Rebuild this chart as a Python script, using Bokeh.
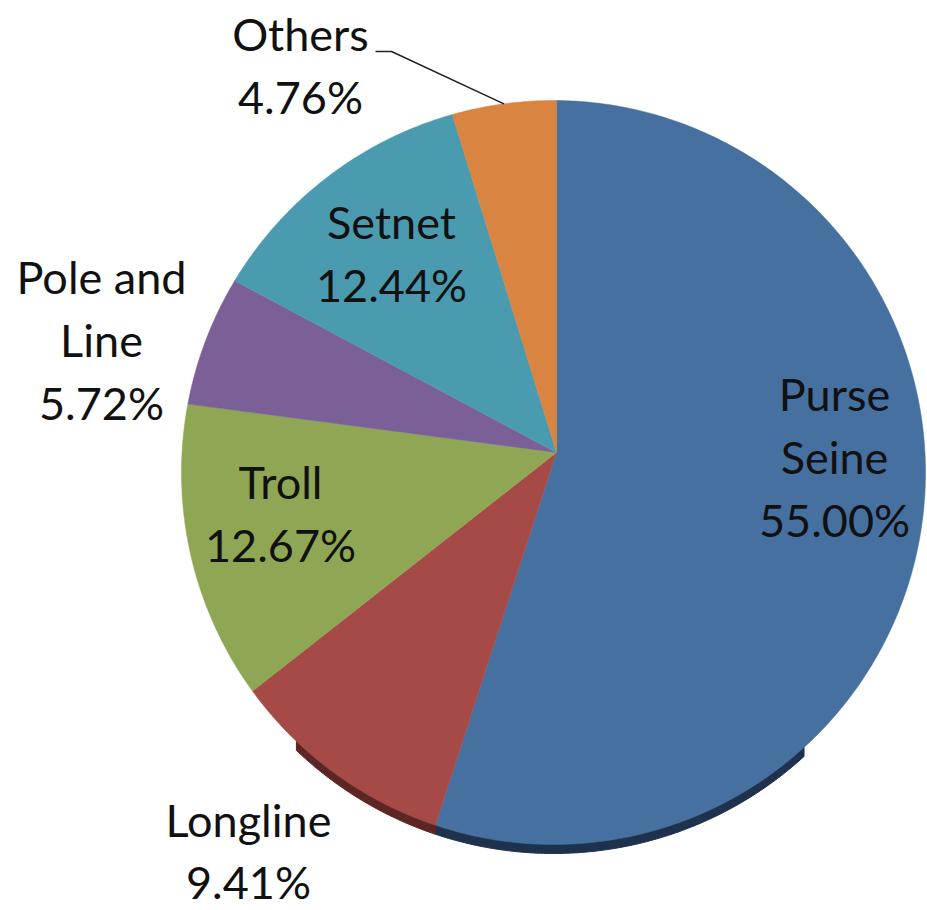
import numpy as np
from bokeh.plotting import figure
from bokeh.models import Range1d
from bokeh.core.properties import value
from bokeh.embed import file_html
from bokeh.resources import INLINE

# ---------------- data ----------------
categories = ["Purse Seine", "Longline", "Troll", "Pole and Line", "Setnet", "Others"]
shares = [55.00, 9.41, 12.67, 5.72, 12.44, 4.76]
label_names = [["Purse", "Seine"], ["Longline"], ["Troll"], ["Pole and", "Line"], ["Setnet"], ["Others"]]

# ---------------- style / layout ----------------
colors = ["#4570A0", "#A64A48", "#8FA755", "#7A6096", "#4A9BB0", "#D98440"]
side_colors = ["#1E314D", "#5C2624", "#4E5E2C", "#423352", "#285663", "#7A4A22"]
W, H = 927, 910
VX, VY = 556.0, 452.0      # point where slices meet (screen px)
CX, CY, R = 553.0, 472.0, 372.0   # outline circle (screen px)
DEPTH = 9.0
SIDE_FROM, SIDE_TO = np.radians(140.0), np.radians(222.0)   # visible part of the 3D side
# label anchors: centre x, baseline of first line (screen px)
label_pos = [(834, 393), (248, 819), (280, 481), (101, 276), (391, 221), (300, 33)]
line_steps = [63, 62, 63, 63, 63, 63]
FONT = "Lato"
FONT_SIZE = "45px"


def ray_len(theta):
    dx, dy = np.sin(theta), -np.cos(theta)
    wx, wy = VX - CX, VY - CY
    b = wx * dx + wy * dy
    c = wx * wx + wy * wy - R * R
    return -b + np.sqrt(b * b - c)


def edge_point(theta):
    t = ray_len(theta)
    return VX + t * np.sin(theta), VY - t * np.cos(theta)


def arc(a0, a1):
    n = max(int(abs(a1 - a0) / (2 * np.pi) * 720), 4)
    th = np.linspace(a0, a1, n)
    pts = [edge_point(t) for t in th]
    return [q[0] for q in pts], [q[1] for q in pts]


total = float(sum(shares))
bounds = np.concatenate([[0.0], np.cumsum(shares)]) / total * 2 * np.pi

p = figure(width=W, height=H, x_range=Range1d(0, W), y_range=Range1d(H, 0),
           x_axis_type=None, y_axis_type=None, toolbar_location=None,
           output_backend="svg", min_border=0, outline_line_color=None)
p.grid.visible = False
p.background_fill_color = "white"
p.border_fill_color = "white"

# 3D side band (visible only along the lower rim)
sx, sy, sc = [], [], []
for i in range(len(shares)):
    a0 = max(bounds[i], SIDE_FROM)
    a1 = min(bounds[i + 1], SIDE_TO)
    if a1 <= a0:
        continue
    ax, ay = arc(a0, a1)
    sx.append(ax + ax[::-1])
    sy.append([y - 1 for y in ay] + [y + DEPTH for y in ay[::-1]])
    sc.append(side_colors[i])
p.patches(sx, sy, fill_color=sc, line_color=sc, line_width=1)

# top faces
px, py = [], []
for i in range(len(shares)):
    ax, ay = arc(bounds[i], bounds[i + 1])
    px.append([VX] + ax)
    py.append([VY] + ay)
p.patches(px, py, fill_color=colors, line_color=colors, line_width=0.5)

# labels
tx, ty, tt = [], [], []
for i, name_lines in enumerate(label_names):
    lines = list(name_lines) + ["%.2f%%" % shares[i]]
    x0, y0 = label_pos[i]
    for k, ln in enumerate(lines):
        tx.append(x0)
        ty.append(y0 + k * line_steps[i])
        tt.append(ln)
p.text(x=tx, y=ty, text=tt, text_align="center", text_baseline="alphabetic",
       text_font=value(FONT), text_font_size=FONT_SIZE, text_color="#111111")

# leader line for "Others"
mid = (bounds[-2] + bounds[-1]) / 2
ex, ey = edge_point(mid)
p.line(x=[375, 391, ex], y=[51, 51, ey], line_color="#222222", line_width=1.5)

open("out.html", "w").write(file_html(p, INLINE))
